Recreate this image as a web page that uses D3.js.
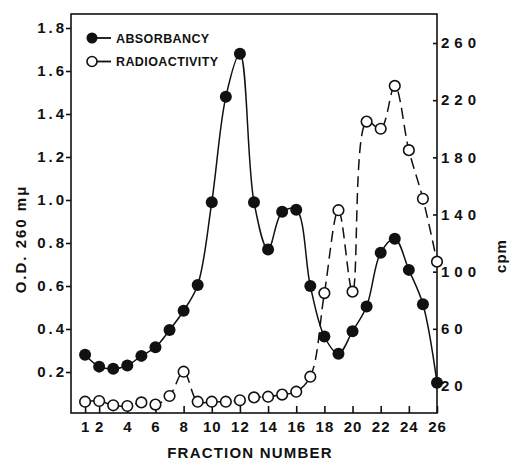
<!DOCTYPE html>
<html>
<head>
<meta charset="UTF-8">
<script src="https://d3js.org/d3.v7.min.js"></script>
<style>
  body { margin: 0; background: #fff; }
  svg { display: block; }
  .tick text { font-family: 'Liberation Sans', Arial, sans-serif; font-weight: bold; fill: #111; }
  .lbl { font-family: 'Liberation Sans', Arial, sans-serif; font-weight: bold; fill: #111; }
</style>
</head>
<body>
<svg id="chart" width="510" height="460"></svg>
<script>
  // fraction numbers and readings taken off the figure
  const fractions=d3.range(1,27);
  const absorbancy=[0.28,0.225,0.215,0.23,0.275,0.315,0.395,0.485,0.605,0.99,1.48,1.68,0.99,
    0.77,0.945,0.955,0.60,0.365,0.285,0.39,0.505,0.755,0.82,0.675,0.515,0.15];
  const radioactivity=[9,9.5,6.5,6,8.5,7,13,30,9,9,9,10,12,12.5,14,16,26.5,85,143,86,205,200,230,185,151,107];
  const xTicks=[1,2,4,6,8,10,12,14,16,18,20,22,24,26];
  const odTicks=[0.2,0.4,0.6,0.8,1.0,1.2,1.4,1.6,1.8];
  const cpmTicks=[20,60,100,140,180,220,260];

  const frame={left: 71,right: 437,top: 14,bottom: 413};

  const svg=d3.select('#chart');

  const x=d3.scaleLinear().domain([0,26]).range([frame.left,frame.right]);
  const yOD=d3.scaleLinear().domain([0,1.8]).range([415,28]);
  const yCpm=d3.scaleLinear().domain([20,260]).range([386,43]);

  // box
  svg.append('rect')
    .attr('x',frame.left).attr('y',frame.top)
    .attr('width',frame.right-frame.left).attr('height',frame.bottom-frame.top)
    .attr('fill','none').attr('stroke','#111').attr('stroke-width',1.6);

  // left axis
  const gl=svg.append('g')
    .attr('transform',`translate(${frame.left},0)`)
    .call(d3.axisLeft(yOD).tickValues(odTicks).tickFormat(d3.format('.1f')).tickSize(5).tickSizeOuter(0));
  gl.select('.domain').remove();
  gl.selectAll('.tick line').attr('stroke','#111').attr('stroke-width',1.6);
  gl.selectAll('.tick text')
    .attr('x',-4).attr('font-size','15px').attr('letter-spacing','3px');

  // right axis, ticks pointing in
  const gr=svg.append('g')
    .attr('transform',`translate(${frame.right},0)`)
    .call(d3.axisRight(yCpm).tickValues(cpmTicks).tickSize(-4).tickSizeOuter(0));
  gr.select('.domain').remove();
  gr.selectAll('.tick line').attr('stroke','#111').attr('stroke-width',1.6);
  gr.selectAll('.tick text')
    .attr('x',4).attr('font-size','15px').attr('letter-spacing','5px');

  // bottom axis, ticks pointing up
  const gb=svg.append('g')
    .attr('transform',`translate(0,${frame.bottom})`)
    .call(d3.axisBottom(x).tickValues(xTicks).tickSize(-7).tickSizeOuter(0));
  gb.select('.domain').remove();
  gb.selectAll('.tick line').attr('stroke','#111').attr('stroke-width',1.6);
  gb.selectAll('.tick text')
    .attr('y',14).attr('dy','0.35em').attr('font-size','15px').attr('letter-spacing','1px');

  // axis titles
  svg.append('text').attr('class','lbl')
    .attr('x',250).attr('y',458)
    .attr('text-anchor','middle').attr('font-size','15px').attr('letter-spacing','1.2px')
    .text('FRACTION NUMBER');
  svg.append('text').attr('class','lbl')
    .attr('transform','translate(26,239) rotate(-90)')
    .attr('text-anchor','middle').attr('font-size','15px').attr('letter-spacing','2px')
    .text('O.D. 260 mμ');
  svg.append('text').attr('class','lbl')
    .attr('transform','translate(506,256) rotate(-90)')
    .attr('text-anchor','middle').attr('font-size','15px').attr('letter-spacing','1px')
    .text('cpm');

  const absData=fractions.map((f,i) => ({f: f,v: absorbancy[i]}));
  const radData=fractions.map((f,i) => ({f: f,v: radioactivity[i]}));

  // radioactivity, dashed
  svg.append('path')
    .datum(radData)
    .attr('fill','none').attr('stroke','#111').attr('stroke-width',1.5)
    .attr('stroke-dasharray','11,6')
    .attr('d',d3.line().curve(d3.curveCatmullRom.alpha(0.5)).x(d => x(d.f)).y(d => yCpm(d.v)));

  // absorbancy, solid
  svg.append('path')
    .datum(absData)
    .attr('fill','none').attr('stroke','#111').attr('stroke-width',1.5)
    .attr('d',d3.line().curve(d3.curveCatmullRom.alpha(0.5)).x(d => x(d.f)).y(d => yOD(d.v)));

  svg.append('g').selectAll('circle')
    .data(radData)
    .join('circle')
    .attr('cx',d => x(d.f)).attr('cy',d => yCpm(d.v)).attr('r',5.3)
    .attr('fill','#fff').attr('stroke','#111').attr('stroke-width',1.6);

  svg.append('g').selectAll('circle')
    .data(absData)
    .join('circle')
    .attr('cx',d => x(d.f)).attr('cy',d => yOD(d.v)).attr('r',6)
    .attr('fill','#111');

  // legend
  const legend=[{name: 'ABSORBANCY',filled: true,y: 38},{name: 'RADIOACTIVITY',filled: false,y: 61.5}];
  const lg=svg.append('g').selectAll('g').data(legend).join('g')
    .attr('transform',d => `translate(92,${d.y})`);
  lg.append('line').attr('x1',4).attr('x2',19).attr('stroke','#111').attr('stroke-width',1.8);
  lg.append('circle')
    .attr('r',d => d.filled ? 5.5 : 5)
    .attr('fill',d => d.filled ? '#111' : '#fff')
    .attr('stroke','#111').attr('stroke-width',d => d.filled ? 0 : 1.6);
  lg.append('text').attr('class','lbl')
    .attr('x',24).attr('dy','0.36em')
    .attr('font-size','12.5px').attr('letter-spacing','0.4px')
    .text(d => d.name);
</script>
</body>
</html>
